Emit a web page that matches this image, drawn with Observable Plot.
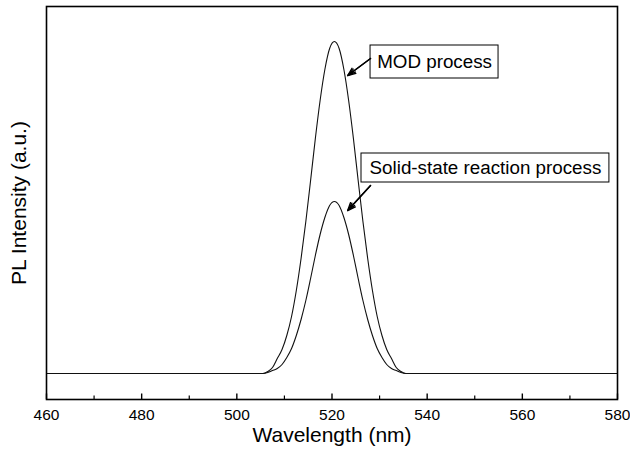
<!DOCTYPE html>
<html>
<head>
<meta charset="utf-8">
<script src="https://cdn.jsdelivr.net/npm/d3@7"></script>
<script src="https://cdn.jsdelivr.net/npm/@observablehq/plot@0.6"></script>
<style>
  html, body { margin: 0; padding: 0; background: #fff; }
  #chart { width: 630px; height: 452px; }
</style>
</head>
<body>
<div id="chart"></div>
<script>
// Wavelength samples (nm)
const wavelength = [460,
  504.5, 505.5, 506.5, 507.5, 508.5, 509.5, 510.5, 511.5, 512.5, 513.5, 514.5,
  515.5, 516.5, 517.5, 518.5, 519.5, 520.5, 521.5, 522.5, 523.5, 524.5, 525.5,
  526.5, 527.5, 528.5, 529.5, 530.5, 531.5, 532.5, 533.5, 534.5, 535.5, 536.5,
  580];
// MOD process PL intensity (a.u.)
const modIntensity = [0,
  0.00, 0.00, 0.02, 0.06, 0.15, 0.24, 0.38, 0.57, 0.83, 1.15, 1.52,
  1.93, 2.35, 2.73, 3.04, 3.25, 3.32, 3.25, 3.04, 2.73, 2.35, 1.93,
  1.52, 1.15, 0.83, 0.57, 0.38, 0.24, 0.15, 0.06, 0.02, 0.00, 0.00,
  0];
// Solid-state reaction process PL intensity (a.u.)
const solidIntensity = [0,
  0.00, 0.00, 0.01, 0.03, 0.05, 0.09, 0.16, 0.25, 0.38, 0.54, 0.73,
  0.95, 1.18, 1.39, 1.56, 1.68, 1.72, 1.68, 1.56, 1.39, 1.18, 0.95,
  0.73, 0.54, 0.38, 0.25, 0.16, 0.09, 0.05, 0.03, 0.01, 0.00, 0.00,
  0];
const seriesNames = ["MOD process", "Solid-state reaction process"];
const majorTicks = [460, 480, 500, 520, 540, 560, 580];
const minorTicks = [470, 490, 510, 530, 550, 570];
const xTitle = "Wavelength (nm)";
const yTitle = "PL Intensity (a.u.)";

const modData = wavelength.map((w, i) => ({w, v: modIntensity[i]}));
const solidData = wavelength.map((w, i) => ({w, v: solidIntensity[i]}));

const yMin = -0.26, yMax = 3.67;
const font = "Liberation Sans, Arial, sans-serif";

// annotation boxes (data coordinates)
const notes = [
  {label: seriesNames[0], x1: 528.1, x2: 555.0, y1: 2.95, y2: 3.28, ax1: 528.1, ay1: 3.15, ax2: 523.3, ay2: 2.98},
  {label: seriesNames[1], x1: 526.2, x2: 578.3, y1: 1.91, y2: 2.20, ax1: 528.1, ay1: 1.88, ax2: 523.3, ay2: 1.63}
];

const chart = Plot.plot({
  width: 630,
  height: 452,
  marginLeft: 46,
  marginRight: 13,
  marginTop: 6,
  marginBottom: 53,
  style: {fontFamily: font, background: "white"},
  x: {domain: [460, 580]},
  y: {domain: [yMin, yMax]},
  marks: [
    Plot.line(modData, {x: "w", y: "v", stroke: "#111", strokeWidth: 1.1, curve: "monotone-x"}),
    Plot.line(solidData, {x: "w", y: "v", stroke: "#111", strokeWidth: 1.1, curve: "monotone-x"}),
    Plot.ruleX(majorTicks, {x: d => d, y1: yMin, y2: yMin + 0.055, stroke: "black", strokeWidth: 1.4}),
    Plot.ruleX(minorTicks, {x: d => d, y1: yMin, y2: yMin + 0.035, stroke: "black", strokeWidth: 1.2}),
    Plot.axisX(majorTicks, {tickSize: 0, tickPadding: 9, fontSize: 15.5, label: null, fill: "black"}),
    Plot.axisY({ticks: [], label: null}),
    Plot.frame({stroke: "black", strokeWidth: 1.6}),
    Plot.rect(notes, {x1: "x1", x2: "x2", y1: "y1", y2: "y2", fill: "white", stroke: "black", strokeWidth: 1}),
    Plot.text(notes, {x: d => (d.x1 + d.x2) / 2, y: d => (d.y1 + d.y2) / 2, text: "label", fontSize: 18.8, fill: "black"}),
    Plot.arrow(notes, {x1: "ax1", y1: "ay1", x2: "ax2", y2: "ay2", stroke: "black", strokeWidth: 1.4, headLength: 9, headAngle: 45}),
    Plot.arrow(notes, {x1: "ax1", y1: "ay1", x2: "ax2", y2: "ay2", stroke: "black", strokeWidth: 1.4, headLength: 9, headAngle: 25}),
    Plot.text([xTitle], {frameAnchor: "bottom", dy: 42, fontSize: 21, fill: "black"}),
    Plot.text([yTitle], {frameAnchor: "left", dx: -27, rotate: -90, textAnchor: "middle", fontSize: 21, fill: "black"})
  ]
});
document.getElementById("chart").appendChild(chart);
</script>
</body>
</html>
